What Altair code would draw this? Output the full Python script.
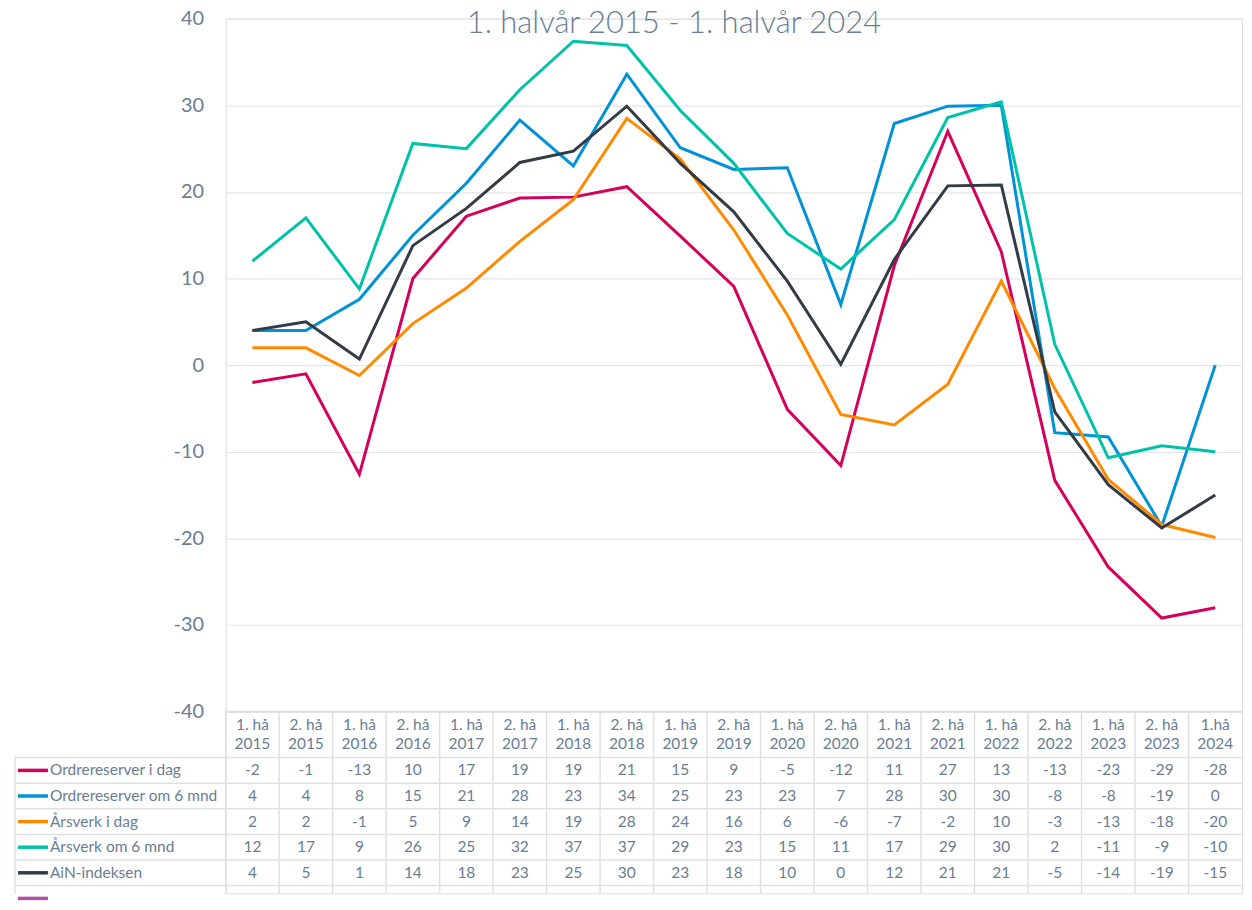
import altair as alt
import pandas as pd

# ---------------- data ----------------
halves = ["1. hå", "2. hå", "1. hå", "2. hå", "1. hå", "2. hå", "1. hå", "2. hå", "1. hå", "2. hå",
          "1. hå", "2. hå", "1. hå", "2. hå", "1. hå", "2. hå", "1. hå", "2. hå", "1.hå"]
years = ["2015", "2015", "2016", "2016", "2017", "2017", "2018", "2018", "2019", "2019",
         "2020", "2020", "2021", "2021", "2022", "2022", "2023", "2023", "2024"]

series = ["Ordrereserver i dag", "Ordrereserver om 6 mnd", "Årsverk i dag",
          "Årsverk om 6 mnd", "AiN-indeksen"]
colors = ["#d4005a", "#0092d6", "#ff8a00", "#00c2a8", "#333b46"]
extra_color = "#b050a2"

# plotted (unrounded) values
ordre_idag = [-2.0, -1.0, -12.6, 10.0, 17.2, 19.3, 19.4, 20.6, 14.9, 9.1, -5.1, -11.6, 11.5, 27.0, 13.1, -13.3, -23.3, -29.2, -28.0]
ordre_6mnd = [4.0, 4.0, 7.6, 15.0, 21.0, 28.3, 23.0, 33.6, 25.1, 22.6, 22.8, 7.0, 27.9, 29.9, 30.0, -7.8, -8.3, -18.6, 0.0]
arsverk_idag = [2.0, 2.0, -1.2, 4.8, 8.9, 14.3, 19.1, 28.5, 23.8, 15.6, 5.8, -5.7, -6.9, -2.2, 9.7, -2.7, -13.2, -18.4, -19.9]
arsverk_6mnd = [12.0, 17.0, 8.8, 25.6, 25.0, 31.8, 37.4, 36.9, 29.4, 23.3, 15.2, 11.1, 16.8, 28.6, 30.4, 2.4, -10.7, -9.3, -10.0]
ain_indeks = [4.0, 5.0, 0.7, 13.8, 18.1, 23.4, 24.7, 29.9, 23.3, 17.7, 9.7, 0.1, 12.2, 20.7, 20.8, -5.4, -13.8, -18.8, -15.0]

# values as printed in the data table
tab_ordre_idag = [-2, -1, -13, 10, 17, 19, 19, 21, 15, 9, -5, -12, 11, 27, 13, -13, -23, -29, -28]
tab_ordre_6mnd = [4, 4, 8, 15, 21, 28, 23, 34, 25, 23, 23, 7, 28, 30, 30, -8, -8, -19, 0]
tab_arsverk_idag = [2, 2, -1, 5, 9, 14, 19, 28, 24, 16, 6, -6, -7, -2, 10, -3, -13, -18, -20]
tab_arsverk_6mnd = [12, 17, 9, 26, 25, 32, 37, 37, 29, 23, 15, 11, 17, 29, 30, 2, -11, -9, -10]
tab_ain_indeks = [4, 5, 1, 14, 18, 23, 25, 30, 23, 18, 10, 0, 12, 21, 21, -5, -14, -19, -15]

title_text = "1. halvår 2015 - 1. halvår 2024"
y_ticks = [-40, -30, -20, -10, 0, 10, 20, 30, 40]

# ---------------- tables ----------------
cats = [f"{h} {y}" for h, y in zip(halves, years)]
plot_vals = [ordre_idag, ordre_6mnd, arsverk_idag, arsverk_6mnd, ain_indeks]
tab_vals = [tab_ordre_idag, tab_ordre_6mnd, tab_arsverk_idag, tab_arsverk_6mnd, tab_ain_indeks]

line_rows = []
for s, vals in zip(series, plot_vals):
    for c, v in zip(cats, vals):
        line_rows.append({"cat": c, "series": s, "value": v})
line_df = pd.DataFrame(line_rows)

tab_rows = []
for i, (s, vals) in enumerate(zip(series, tab_vals)):
    for c, v in zip(cats, vals):
        tab_rows.append({"cat": c, "series": s, "rowc": i + 0.5, "val": str(v)})
tab_df = pd.DataFrame(tab_rows)

hdr_df = pd.DataFrame({"cat": cats, "half": halves, "year": years})
leg_names = series + [""]
leg_df = pd.DataFrame({"series": leg_names, "rowc": [i + 0.5 for i in range(len(leg_names))]})
hline_df = pd.DataFrame({"line": list(range(len(leg_names)))})
one_df = pd.DataFrame({"a": [0]})
title_df = pd.DataFrame({"t": [title_text]})

# ---------------- style ----------------
FONT = "Lato"
TXT = "#697d93"
GRID = "#e3e6ea"
BORDER = "#dde1e6"
W = 1018
H1 = 694
ROW = 25.6
HDR_PX = 46
NROWS = 5.3
H2 = round(HDR_PX + NROWS * ROW)
LEFT = -211

xscale = alt.Scale(domain=cats, paddingInner=0, paddingOuter=0)
cscale = alt.Scale(domain=leg_names, range=colors + [extra_color])

# ---------------- line panel ----------------
lines = alt.Chart(line_df).mark_line(strokeWidth=3).encode(
    x=alt.X("cat:N", scale=xscale, axis=None),
    y=alt.Y("value:Q", scale=alt.Scale(domain=[-40, 40], nice=False, zero=False),
            axis=alt.Axis(values=y_ticks, grid=True, gridColor=GRID, gridWidth=1.2,
                          domain=False, ticks=False, labelPadding=22, labelFontSize=20,
                          labelColor=TXT, labelFont=FONT, title=None,
                          labelExpr="'' + datum.value")),
    color=alt.Color("series:N", scale=cscale, legend=None),
)

title = alt.Chart(title_df).mark_text(
    fontSize=31, font=FONT, fontWeight=300, color=TXT, align="center", baseline="alphabetic"
).encode(x=alt.value(449), y=alt.value(14), text="t:N")

top = alt.layer(lines, title).properties(width=W, height=H1)

# ---------------- data table panel ----------------
ty = alt.Scale(domain=[-HDR_PX / ROW, NROWS], reverse=True, nice=False, zero=False)

vals = alt.Chart(tab_df).mark_text(fontSize=15.5, font=FONT, color=TXT, baseline="middle").encode(
    x=alt.X("cat:N", scale=xscale, axis=None),
    y=alt.Y("rowc:Q", scale=ty, axis=None),
    text="val:N",
)

hdr1 = alt.Chart(hdr_df).mark_text(fontSize=15.5, font=FONT, color=TXT, baseline="middle").encode(
    x=alt.X("cat:N", scale=xscale, axis=None),
    y=alt.value(13),
    text="half:N",
)
hdr2 = alt.Chart(hdr_df).mark_text(fontSize=15.5, font=FONT, color=TXT, baseline="middle").encode(
    x=alt.X("cat:N", scale=xscale, axis=None),
    y=alt.value(32),
    text="year:N",
)

hlines = alt.Chart(hline_df).mark_rule(color=BORDER, strokeWidth=1.5).encode(
    y=alt.Y("line:Q", scale=ty, axis=None),
    x=alt.value(LEFT), x2=alt.value(W),
)
topline = alt.Chart(one_df).mark_rule(color=BORDER, strokeWidth=1.5).encode(
    y=alt.value(0), x=alt.value(0), x2=alt.value(W),
)
vlines = alt.Chart(hdr_df).mark_rule(color=BORDER, strokeWidth=1.5).encode(
    x=alt.X("cat:N", scale=xscale, bandPosition=0, axis=None),
    y=alt.value(0), y2=alt.value(H2),
)
leftline = alt.Chart(one_df).mark_rule(color=BORDER, strokeWidth=1.5).encode(
    x=alt.value(LEFT), y=alt.value(HDR_PX), y2=alt.value(H2),
)

swatch = alt.Chart(leg_df).mark_rule(strokeWidth=3.5).encode(
    x=alt.value(LEFT + 3), x2=alt.value(LEFT + 33),
    y=alt.Y("rowc:Q", scale=ty, axis=None),
    color=alt.Color("series:N", scale=cscale, legend=None),
)
legtext = alt.Chart(leg_df).mark_text(fontSize=15.5, font=FONT, color=TXT, align="left", baseline="middle").encode(
    x=alt.value(LEFT + 35),
    y=alt.Y("rowc:Q", scale=ty, axis=None),
    text="series:N",
)

table = alt.layer(hlines, topline, vlines, leftline, vals, hdr1, hdr2, swatch, legtext).properties(
    width=W, height=H2
)

chart = alt.vconcat(top, table, spacing=0, bounds="flush").properties(
    padding={"left": 5, "top": -2, "right": 0, "bottom": 0}
).configure_view(stroke=None).configure(font=FONT)

chart.save("out.html", embed_options={"renderer": "svg", "actions": False})
